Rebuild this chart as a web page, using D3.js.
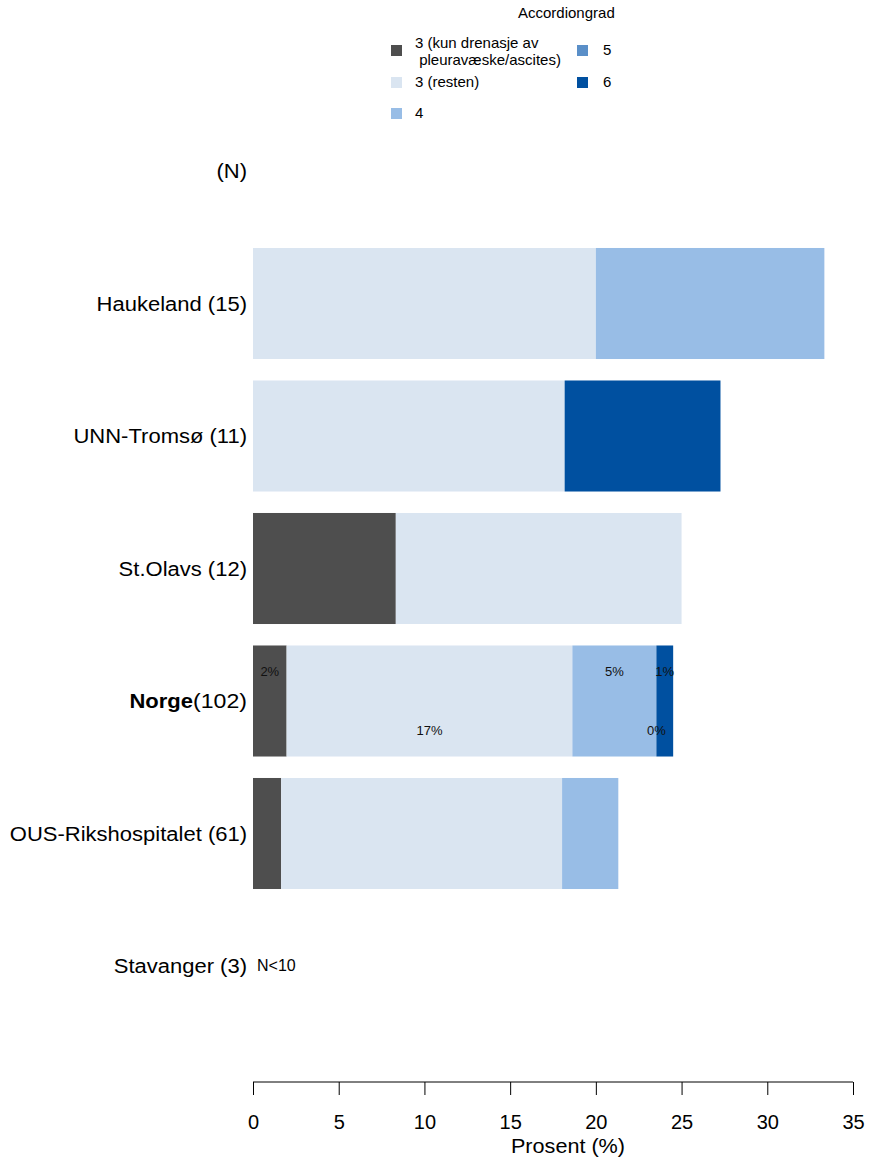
<!DOCTYPE html>
<html><head><meta charset="utf-8">
<script src="https://cdn.jsdelivr.net/npm/d3@7"></script>
<style>body{margin:0;background:#fff;} text{font-family:"Liberation Sans",Arial,sans-serif;}</style>
</head><body>
<svg id="c" width="869" height="1162"></svg>
<script>
const units = ["(N)", "Haukeland", "UNN-Tromsø", "St.Olavs", "Norge", "OUS-Rikshospitalet", "Stavanger"];
const nValues = [null, 15, 11, 12, 102, 61, 3];
const seriesNames = ["3 (kun drenasje av\n pleuravæske/ascites)", "3 (resten)", "4", "5", "6"];
const seriesColors = ["#4e4e4e", "#dae5f1", "#98bde6", "#5a8fc8", "#0050a0"];
// percentages per unit, per series
const s3drain = [null, 0, 0, 8.33, 1.96, 1.64, null];
const s3rest  = [null, 20.0, 18.18, 16.67, 16.67, 16.39, null];
const s4      = [null, 13.33, 0, 0, 4.90, 3.28, null];
const s5      = [null, 0, 0, 0, 0, 0, null];
const s6      = [null, 0, 9.09, 0, 0.98, 0, null];
const norgeLabels = ["2%", "17%", "5%", "0%", "1%"];
const xTicks = [0, 5, 10, 15, 20, 25, 30, 35];

const series = [s3drain, s3rest, s4, s5, s6];
const svg = d3.select("#c");
const x = d3.scaleLinear().domain([0, 35]).range([253, 853]);
const y = d3.scaleBand().domain(units).range([104.75, 1032.25]).paddingInner(0.162).paddingOuter(0.081);

function stretch(sel, f) {
  sel.each(function () {
    const L = this.getComputedTextLength();
    d3.select(this).attr("textLength", L * f).attr("lengthAdjust", "spacingAndGlyphs");
  });
}

const gBars = svg.append("g");
const gLab = svg.append("g");
// bars
units.forEach((u, i) => {
  if (nValues[i] === null || nValues[i] < 10) return;
  let cum = 0;
  series.forEach((s, k) => {
    const v = s[i];
    const x0 = cum; cum += v;
    if (v > 0) {
      gBars.append("rect").attr("x", x(x0)).attr("y", y(u))
        .attr("width", x(cum) - x(x0)).attr("height", y.bandwidth())
        .attr("fill", seriesColors[k]);
    }
    if (u === "Norge") {
      gLab.append("text").attr("x", x((x0 + cum) / 2))
        .attr("y", y(u) + (k % 2 === 0 ? 31 : 90))
        .attr("text-anchor", "middle").attr("font-size", 13).attr("fill", "#111")
        .text(norgeLabels[k]);
    }
  });
});

// unit labels
units.forEach((u, i) => {
  const t = svg.append("text").attr("x", 247).attr("y", y(u) + y.bandwidth() / 2 + 7)
    .attr("text-anchor", "end").attr("font-size", 20).attr("fill", "#000");
  if (u === "(N)") { t.text("(N)"); }
  else if (u === "Norge") {
    t.append("tspan").attr("font-weight", "bold").text("Norge");
    t.append("tspan").attr("font-size", 21).text("(" + nValues[i] + ")");
  } else t.text(u + " (" + nValues[i] + ")");
  stretch(t, 1.1);
  if (nValues[i] !== null && nValues[i] < 10) {
    svg.append("text").attr("x", 257).attr("y", y(u) + y.bandwidth() / 2 + 5)
      .attr("font-size", 16).text("N<10");
  }
});

// axis
const ax = svg.append("g").attr("transform", "translate(0,1082)")
  .call(d3.axisBottom(x).tickValues(xTicks).tickSize(13).tickPadding(20).tickFormat(d3.format("d")));
ax.select(".domain").attr("stroke", "#000").attr("d", "M253,0H853");
ax.selectAll(".tick line").attr("stroke", "#000");
ax.selectAll("text").attr("font-size", 20).attr("fill", "#000").attr("font-family", "Liberation Sans, Arial, sans-serif");
const xl = svg.append("text").attr("x", 568).attr("y", 1153).attr("text-anchor", "middle")
  .attr("font-size", 20).text("Prosent (%)");
stretch(xl, 1.08);

// legend
svg.append("text").attr("x", 518).attr("y", 18).attr("font-size", 15).text("Accordiongrad");
const legPos = [[391, 45], [391, 77], [391, 108], [577, 45], [577, 77]];
seriesNames.forEach((n, k) => {
  const [lx, ly] = legPos[k];
  svg.append("rect").attr("x", lx).attr("y", ly).attr("width", 11).attr("height", 11).attr("fill", seriesColors[k]);
  const lines = n.split("\n");
  const tx = k < 3 ? 415 : 603;
  const t = svg.append("text").attr("x", tx).attr("font-size", 15)
    .attr("y", lines.length > 1 ? ly + 3 : ly + 10);
  lines.forEach((l, j) => {
    t.append("tspan").attr("x", tx).attr("dy", j === 0 ? 0 : 17)
      .style("white-space", "pre").text(l);
  });
});
</script>
</body></html>
